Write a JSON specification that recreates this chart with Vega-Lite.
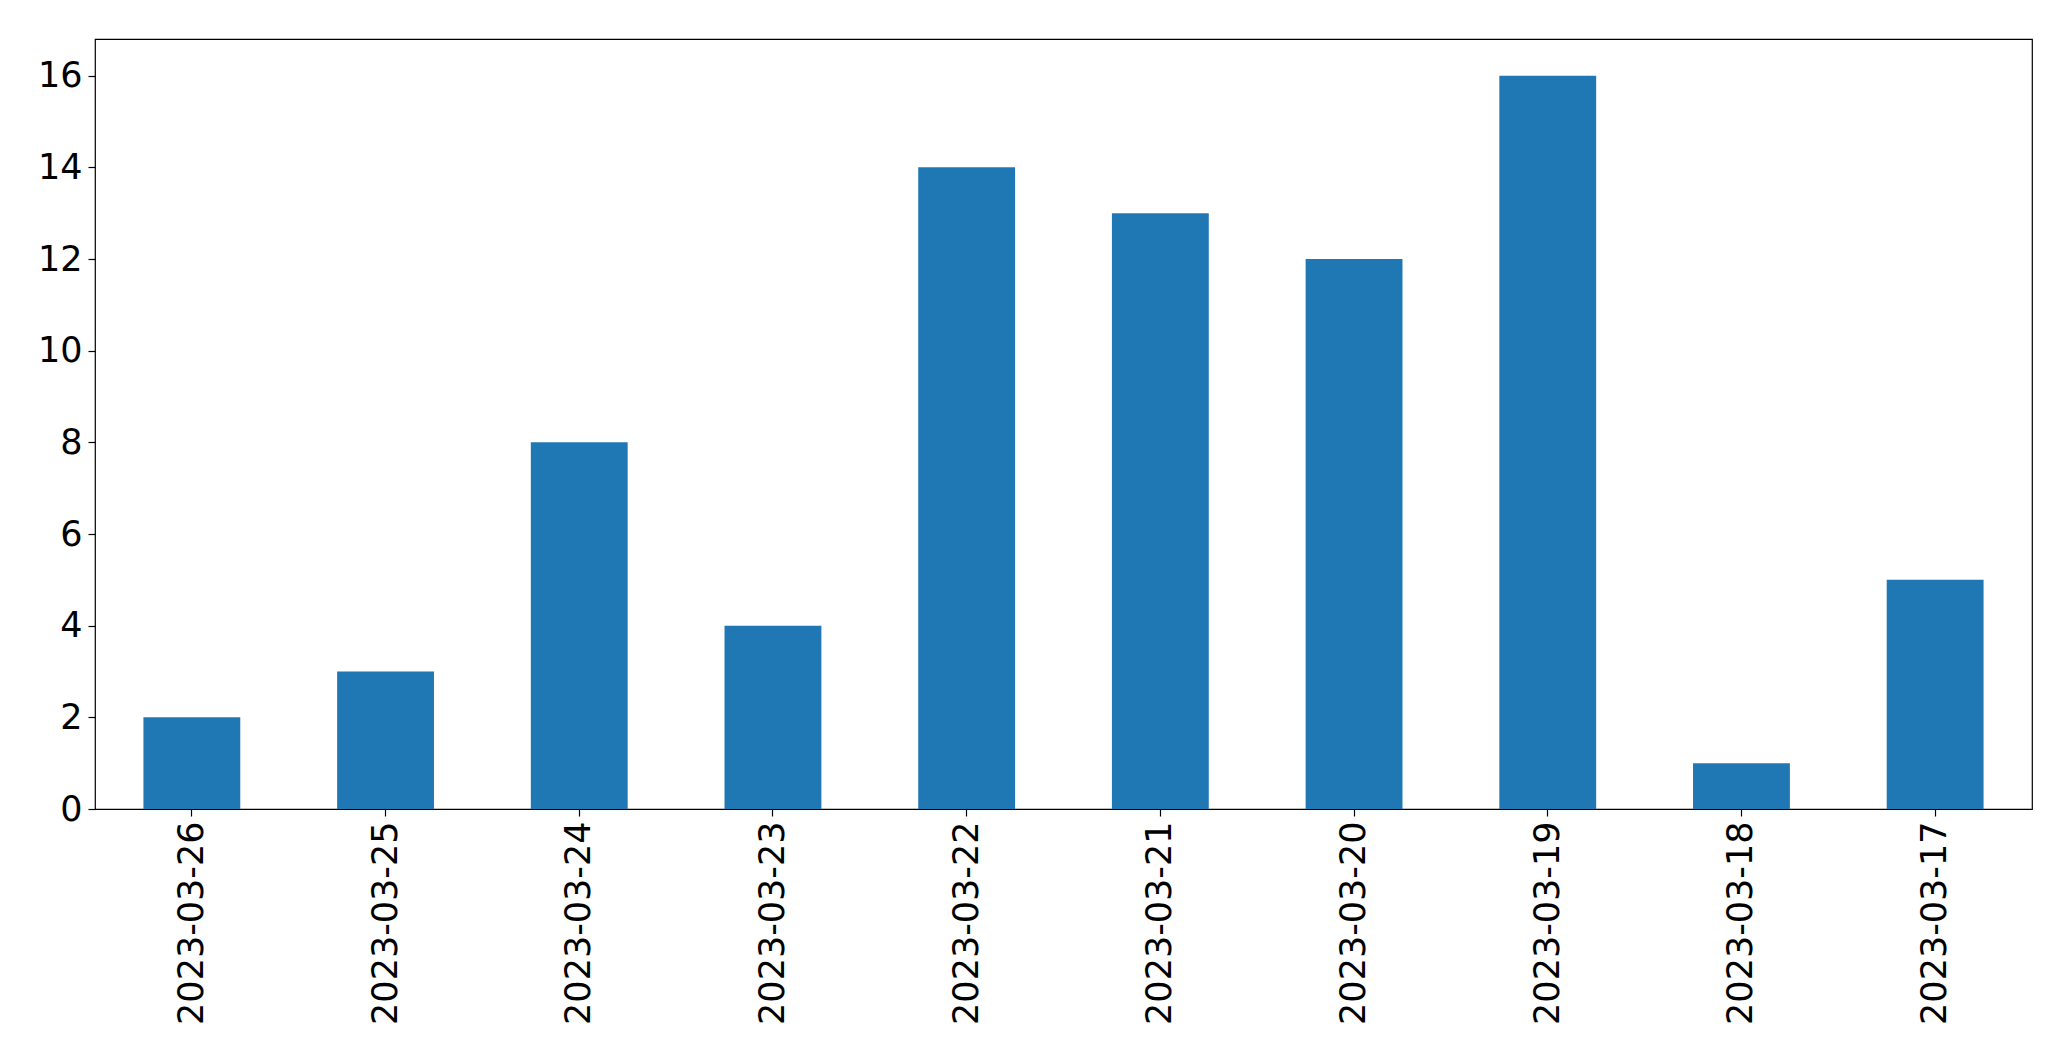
{
  "$schema": "https://vega.github.io/schema/vega-lite/v6.json",
  "autosize": "none",
  "width": 1937,
  "height": 770,
  "padding": {"left": 95, "top": 39, "right": 39, "bottom": 252},
  "background": "white",
  "config": {
    "view": {"stroke": "black", "strokeWidth": 1.2},
    "axis": {
      "labelFont": "DejaVu Sans",
      "labelFontSize": 35,
      "labelColor": "black",
      "labelLimit": 0,
      "tickColor": "black",
      "tickSize": 7,
      "tickWidth": 1.2,
      "grid": false,
      "domain": false,
      "title": null
    }
  },
  "data": {
    "values": [
      {"date": "2023-03-26", "count": 2},
      {"date": "2023-03-25", "count": 3},
      {"date": "2023-03-24", "count": 8},
      {"date": "2023-03-23", "count": 4},
      {"date": "2023-03-22", "count": 14},
      {"date": "2023-03-21", "count": 13},
      {"date": "2023-03-20", "count": 12},
      {"date": "2023-03-19", "count": 16},
      {"date": "2023-03-18", "count": 1},
      {"date": "2023-03-17", "count": 5}
    ]
  },
  "mark": {"type": "bar", "color": "#1f77b4"},
  "encoding": {
    "x": {
      "field": "date",
      "type": "nominal",
      "sort": null,
      "scale": {"paddingInner": 0.5, "paddingOuter": 0.25},
      "axis": {"labelAngle": 270, "labelPadding": 5}
    },
    "y": {
      "field": "count",
      "type": "quantitative",
      "scale": {"domain": [0, 16.8], "nice": false, "zero": true},
      "axis": {"values": [0, 2, 4, 6, 8, 10, 12, 14, 16], "labelPadding": 6}
    }
  }
}
